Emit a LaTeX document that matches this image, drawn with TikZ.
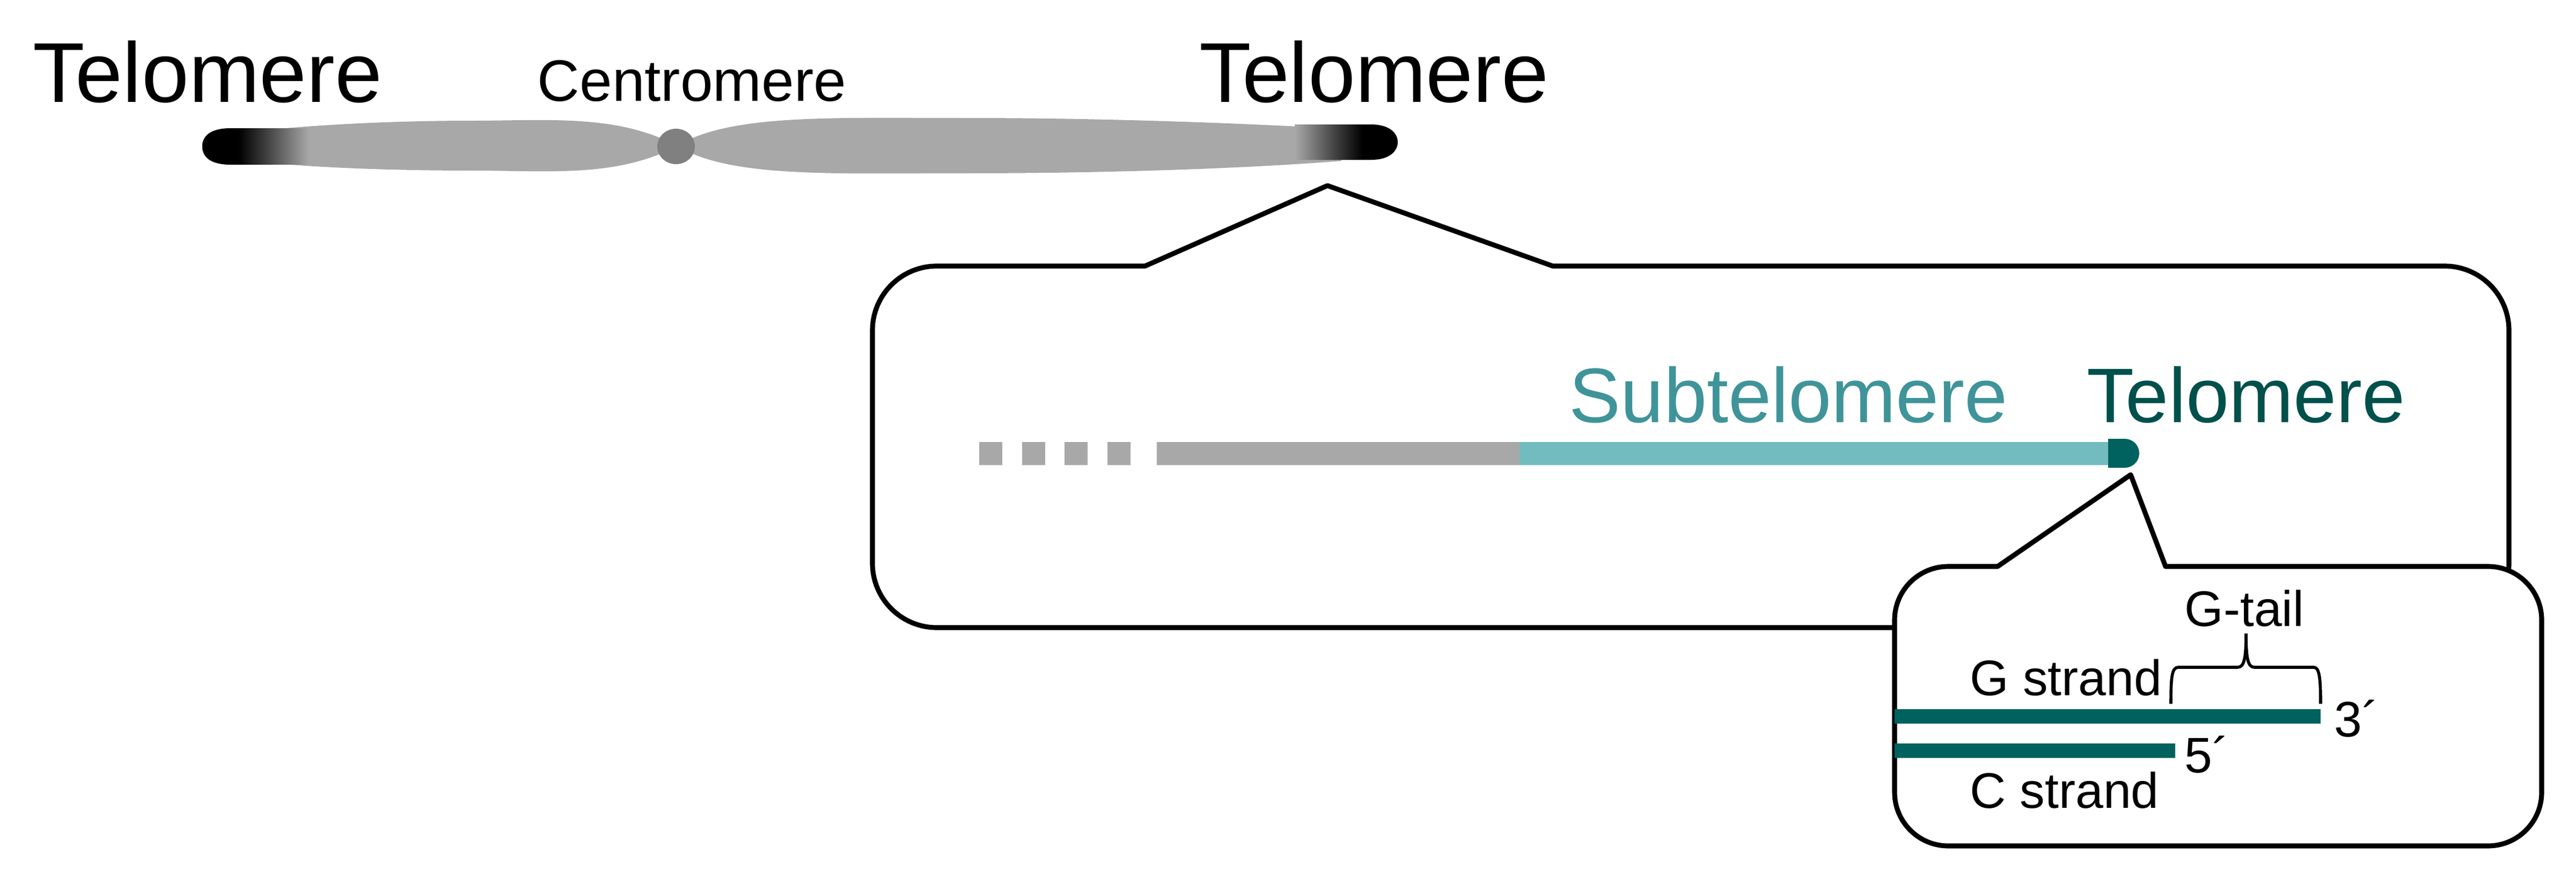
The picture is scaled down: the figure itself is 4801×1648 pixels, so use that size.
\documentclass[tikz,border=0pt]{standalone}
\usepackage{fontspec}
\setmainfont{Liberation Sans}
\definecolor{chromgray}{HTML}{A8A8A8}
\definecolor{centgray}{HTML}{808080}
\definecolor{subtext}{HTML}{3F9499}
\definecolor{subline}{HTML}{72BCC0}
\definecolor{teldark}{HTML}{00625E}
\definecolor{teltext}{HTML}{00504C}
\pgfdeclarehorizontalshading{capL}{100bp}{color(0bp)=(black);color(25bp)=(black);color(42bp)=(black);color(55bp)=(black!75);color(75bp)=(chromgray);color(100bp)=(chromgray)}
\pgfdeclarehorizontalshading{capR}{100bp}{color(0bp)=(chromgray);color(25bp)=(chromgray);color(45bp)=(black!75);color(58bp)=(black);color(75bp)=(black);color(100bp)=(black)}
\tikzset{
  big/.style={font=\fontsize{45}{50}\selectfont, inner sep=0pt, anchor=base west},
  mid/.style={font=\fontsize{41}{46}\selectfont, inner sep=0pt, anchor=base west},
  small/.style={font=\fontsize{31}{36}\selectfont, inner sep=0pt, anchor=base west},
  tiny/.style={font=\fontsize{26.5}{30}\selectfont, inner sep=0pt, anchor=base west},
  callout/.style={line width=2.6pt, line join=round},
}
\begin{document}
\begin{tikzpicture}[x=0.01cm,y=-0.01cm]
\useasboundingbox (0,0) rectangle (4801,1648);
% chromosome
\fill[chromgray] (1262,272) .. controls (1150,212) and (1020,225) .. (880,225) .. controls (700,225) and (560,236) .. (500,242) -- (500,303) .. controls (560,310) and (700,318) .. (880,318) .. controls (1020,318) and (1150,332) .. (1262,272) -- cycle;
\fill[chromgray] (1262,272) .. controls (1360,212) and (1550,220) .. (1800,220) .. controls (2100,220) and (2350,232) .. (2500,240) -- (2500,300) .. controls (2350,312) and (2100,323) .. (1800,323) .. controls (1550,323) and (1360,332) .. (1262,272) -- cycle;
\shade[shading=capL] (576,239) -- (430,239) .. controls (390,239) and (377,255) .. (377,273) .. controls (377,291) and (390,307) .. (430,307) -- (576,307) -- cycle;
\shade[shading=capR] (2413,232) -- (2555,232) .. controls (2592,232) and (2605,250) .. (2605,265) .. controls (2605,280) and (2592,298) .. (2555,298) -- (2413,298) -- cycle;
\fill[centgray] (1260,273) ellipse [x radius=35, y radius=33];
\node[big] (tl) at (61,190) {Telomere};
\node[small] (cen) at (1001,188) {Centromere};
\node[big] (tr) at (2235,190) {Telomere};
% big callout
\draw[callout] (2134,496) -- (2474,346) -- (2894,496) -- (4556,496) arc[start angle=-90,end angle=0,radius=120] -- (4676,1050) arc[start angle=0,end angle=90,radius=120] -- (1746,1170) arc[start angle=90,end angle=180,radius=120] -- (1626,616) arc[start angle=180,end angle=270,radius=120] -- cycle;
% chromosome line
\foreach \x in {1825,1905,1984,2064} \fill[chromgray] (\x,824) rectangle ++(43,43);
\fill[chromgray] (2156,824) rectangle (2832,867);
\fill[subline] (2832,824) rectangle (3929,867);
\fill[teldark] (3929,818) -- (3960,818) arc[start angle=-90,end angle=90,radius=27] -- (3929,872) -- cycle;
\node[mid, text=subtext] (sub) at (2924,787) {Subtelomere};
\node[mid, text=teltext] (tel2) at (3889,787) {Telomere};
% small callout
\draw[callout, fill=white] (3723,1056) -- (3971,885) -- (4036,1056) -- (4637,1056) arc[start angle=-90,end angle=0,radius=100] -- (4737,1477) arc[start angle=0,end angle=90,radius=100] -- (3631,1577) arc[start angle=90,end angle=180,radius=100] -- (3531,1156) arc[start angle=180,end angle=270,radius=100] -- cycle;
\fill[teldark] (3531,1322) rectangle (4325,1349);
\fill[teldark] (3531,1386) rectangle (4054,1413);
\node[tiny] (gs) at (3671,1296) {G strand};
\node[tiny] (cs) at (3671,1506) {C strand};
\node[tiny] (gt) at (4071,1167) {G-tail};
\node[tiny] (p3) at (4350,1373) {3´};
\node[tiny] (p5) at (4071,1440) {5´};
\draw[line width=1.6pt] (4046,1312) .. controls (4046,1260) and (4048,1244) .. (4060,1244) -- (4170,1244) .. controls (4182,1244) and (4186,1230) .. (4186,1181) .. controls (4186,1230) and (4190,1244) .. (4202,1244) -- (4312,1244) .. controls (4322,1244) and (4325,1260) .. (4325,1312);
\end{tikzpicture}
\end{document}
